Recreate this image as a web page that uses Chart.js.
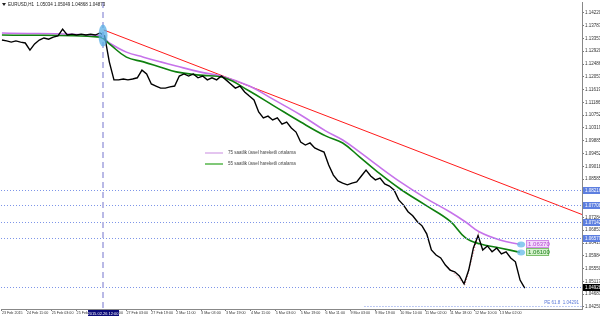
<!DOCTYPE html>
<html>
<head>
<meta charset="utf-8">
<script src="https://cdn.jsdelivr.net/npm/chart.js@4/dist/chart.umd.min.js"></script>
<style>
  html, body { margin: 0; padding: 0; background: #fff; }
  #c { display: block; }
</style>
</head>
<body>
<canvas id="c" width="600" height="316"></canvas>
<script>
// bars per sample of the close line
const STEP = 3;

// closes sampled every 3 H1 bars
const closes = [
  1.1330, 1.1327, 1.1323, 1.1327, 1.1323, 1.1320, 1.1296, 1.1317, 1.1330, 1.1337,
  1.1333, 1.1340, 1.1344, 1.1367, 1.1347, 1.1350, 1.1347, 1.1350, 1.1347, 1.1350,
  1.1347, 1.1354, 1.1344, 1.1256, 1.1195, 1.1195, 1.1198, 1.1195, 1.1198, 1.1202,
  1.1228, 1.1215, 1.1181, 1.1174, 1.1167, 1.1167, 1.1171, 1.1174, 1.1208, 1.1215,
  1.1208, 1.1215, 1.1202, 1.1208, 1.1195, 1.1202, 1.1195, 1.1208, 1.1195, 1.1181,
  1.1167, 1.1174, 1.1154, 1.1140, 1.1127, 1.1086, 1.1066, 1.1072, 1.1059, 1.1066,
  1.1045, 1.1052, 1.1032, 1.1018, 1.0984, 1.0974, 1.0981, 1.0964, 1.0957, 1.0950,
  1.0906, 1.0872, 1.0852, 1.0845, 1.0839, 1.0845, 1.0849, 1.0869, 1.0889, 1.0869,
  1.0856, 1.0862, 1.0842, 1.0835, 1.0822, 1.0788, 1.0771, 1.0748, 1.0734, 1.0714,
  1.0700, 1.0673, 1.0618, 1.0601, 1.0591, 1.0567, 1.0550, 1.0544, 1.0530, 1.0503,
  1.0550, 1.0625, 1.0667, 1.0618, 1.0632, 1.0612, 1.0625, 1.0605, 1.0612, 1.0591,
  1.0578, 1.0516, 1.0489
];

// moving averages, read at these bar indices
const maBars = [0, 63, 69, 80, 91, 102, 112, 127, 143, 159, 175, 192, 208, 219, 230, 240, 256, 272, 288, 298, 307, 320, 333];
const ema75 = [1.1354, 1.1344, 1.1320, 1.1289, 1.1272, 1.1256, 1.1242, 1.1222, 1.1205, 1.1174, 1.1127, 1.1076,
  1.1022, 1.0991, 1.0950, 1.0910, 1.0849, 1.0795, 1.0747, 1.0713, 1.0679, 1.0652, 1.0637];
const ema55 = [1.1347, 1.1340, 1.1317, 1.1272, 1.1256, 1.1238, 1.1222, 1.1211, 1.1202, 1.1157, 1.1106, 1.1052,
  1.1005, 1.0981, 1.0933, 1.0889, 1.0825, 1.0771, 1.0716, 1.0659, 1.0639, 1.0625, 1.0610];

// trend line and zigzag (bar index, price)
const trendBars = [65.5, 373];
const trendPrices = [1.1364, 1.0738];
const zigBars = [286.6, 297.6, 306.5];
const zigPrices = [1.0561, 1.0500, 1.0679];

// horizontal levels
const levelPrices = [1.08216, 1.07708, 1.07142, 1.06579];
const lastPrice = 1.04928;
const fibPrice = 1.04291;
const fibStartBar = 233;
const cursorBar = 65;

// axis labels
const yTicks = [1.14220, 1.13787, 1.13353, 1.12920, 1.12486, 1.12053, 1.11619, 1.11186, 1.10752, 1.10319,
  1.09885, 1.09452, 1.09018, 1.08585, 1.08151, 1.07718, 1.07284, 1.06851, 1.06417, 1.05984,
  1.05550, 1.05117, 1.04683, 1.04250];
const xLabels = ["23 Feb 2015", "24 Feb 11:00", "25 Feb 03:00", "25 Feb 19:00", "26 Feb 11:00", "27 Feb 03:00",
  "27 Feb 19:00", "2 Mar 11:00", "3 Mar 03:00", "3 Mar 19:00", "4 Mar 11:00", "5 Mar 03:00", "5 Mar 19:00",
  "6 Mar 11:00", "9 Mar 03:00", "9 Mar 19:00", "10 Mar 10:00", "11 Mar 02:00", "11 Mar 18:00",
  "12 Mar 10:00", "13 Mar 02:00"];
const xLabelEvery = 16;
const cursorLabel = "2015.02.26 12:00";
const title = "EURUSD,H1  1.05034 1.05049 1.04868 1.04873";
const legend = ["75 saatlik üssel hareketli ortalama", "55 saatlik üssel hareketli ortalama"];

const FONT = '"Liberation Sans Narrow", "Liberation Sans", Arial, sans-serif';

function pts(xs, ys) {
  return ys.map((v, i) => ({ x: xs[i], y: v }));
}

const overlay = {
  id: "overlay",
  afterDraw(chart) {
    const { ctx, chartArea: a, scales } = chart;
    const x = scales.x, y = scales.y;
    ctx.save();

    // dotted levels
    ctx.lineWidth = 1;
    ctx.strokeStyle = "#7d95e8";
    ctx.setLineDash([1, 2]);
    levelPrices.concat([lastPrice]).forEach((p) => {
      const py = Math.round(y.getPixelForValue(p)) + 0.5;
      ctx.beginPath(); ctx.moveTo(a.left, py); ctx.lineTo(a.right, py); ctx.stroke();
    });
    const fy = Math.round(y.getPixelForValue(fibPrice)) + 0.5;
    ctx.beginPath(); ctx.moveTo(x.getPixelForValue(fibStartBar), fy); ctx.lineTo(a.right, fy); ctx.stroke();
    ctx.setLineDash([]);
    ctx.fillStyle = "#5a78d8";
    ctx.font = "4.5px " + FONT;
    ctx.textAlign = "right";
    ctx.textBaseline = "bottom";
    ctx.fillText("PE 61.8  " + fibPrice.toFixed(5), a.right - 3, fy - 1);

    // vertical cursor line
    const cx = Math.round(x.getPixelForValue(cursorBar));
    ctx.strokeStyle = "#b9b9e6";
    ctx.lineWidth = 2;
    ctx.setLineDash([6, 4]);
    ctx.beginPath(); ctx.moveTo(cx, a.top); ctx.lineTo(cx, a.bottom); ctx.stroke();
    ctx.setLineDash([]);

    // blue markers
    ctx.fillStyle = "rgba(90,175,230,0.75)";
    ctx.beginPath();
    ctx.ellipse(cx, y.getPixelForValue(1.1345), 4.5, 11, 0, 0, Math.PI * 2);
    ctx.fill();
    const endX = x.getPixelForValue(maBars[maBars.length - 1]);
    [ema75[ema75.length - 1], ema55[ema55.length - 1]].forEach((p) => {
      ctx.fillStyle = "rgba(110,190,235,0.8)";
      ctx.beginPath();
      ctx.ellipse(endX + 1, y.getPixelForValue(p), 4, 3, 0, 0, Math.PI * 2);
      ctx.fill();
    });

    // MA end labels
    ctx.font = "6px " + FONT;
    ctx.textAlign = "left";
    ctx.textBaseline = "middle";
    [[ema75, "#f3d9fb", "#d18ae6", "#b44bd0"], [ema55, "#d5f2cc", "#7cc06c", "#1c7d1c"]].forEach(([arr, bg, bd, fg]) => {
      const p = arr[arr.length - 1];
      const py = Math.round(y.getPixelForValue(p));
      ctx.fillStyle = bg;
      ctx.fillRect(endX + 6, py - 4, 23, 8);
      ctx.strokeStyle = bd;
      ctx.lineWidth = 1;
      ctx.strokeRect(endX + 6.5, py - 3.5, 22, 7);
      ctx.fillStyle = fg;
      ctx.fillText(p.toFixed(5), endX + 8, py + 0.5);
    });

    // legend lines and text
    ctx.font = "4.5px " + FONT;
    ctx.textBaseline = "middle";
    [["#c98be0", 1, 153], ["#80c878", 2, 164]].forEach(([col, w, ly], i) => {
      ctx.strokeStyle = col;
      ctx.lineWidth = w;
      ctx.beginPath(); ctx.moveTo(205, ly); ctx.lineTo(223, ly); ctx.stroke();
      ctx.fillStyle = "#444";
      ctx.fillText(legend[i], 228, ly);
    });

    // title
    ctx.fillStyle = "#222";
    ctx.beginPath(); ctx.moveTo(2, 3); ctx.lineTo(6, 3); ctx.lineTo(4, 6); ctx.closePath(); ctx.fill();
    ctx.fillText(title, 8, 5);

    // right axis boxes
    ctx.textAlign = "left";
    levelPrices.forEach((p) => {
      const py = Math.round(y.getPixelForValue(p));
      ctx.fillStyle = "#5d7fe0";
      ctx.fillRect(a.right + 1, py - 3, 18, 7);
      ctx.fillStyle = "#fff";
      ctx.fillText(p.toFixed(5), a.right + 3, py + 0.5);
    });
    const ly = Math.round(y.getPixelForValue(lastPrice));
    ctx.fillStyle = "#000";
    ctx.fillRect(a.right + 1, ly - 3, 18, 7);
    ctx.fillStyle = "#fff";
    ctx.fillText(lastPrice.toFixed(5), a.right + 3, ly + 0.5);

    // cursor time box
    ctx.font = "4px " + FONT;
    ctx.fillStyle = "#0a0a78";
    ctx.fillRect(cx - 15, a.bottom + 1, 31, 7);
    ctx.fillStyle = "#fff";
    ctx.textAlign = "center";
    ctx.fillText(cursorLabel, cx, a.bottom + 4.5);

    ctx.restore();
  }
};

new Chart(document.getElementById("c"), {
  type: "line",
  data: {
    datasets: [
      {
        data: closes.map((c, i) => ({ x: i * STEP, y: c })),
        borderColor: "#000", borderWidth: 1.4, pointRadius: 0, tension: 0, order: 0
      },
      {
        data: pts(maBars, ema75),
        borderColor: "#c673ea", borderWidth: 1.6, pointRadius: 0, tension: 0.4, order: 2
      },
      {
        data: pts(maBars, ema55),
        borderColor: "#0f800f", borderWidth: 1.6, pointRadius: 0, tension: 0.4, order: 1
      },
      {
        data: pts(trendBars, trendPrices),
        borderColor: "#ff1a1a", borderWidth: 1, pointRadius: 0, order: 3
      },
      {
        data: pts(zigBars, zigPrices),
        borderColor: "#e05a6a", borderWidth: 1, borderDash: [1, 2], pointRadius: 0, order: 4
      }
    ]
  },
  options: {
    responsive: false,
    animation: false,
    devicePixelRatio: 1,
    layout: { padding: { left: 1, top: 2, right: 0, bottom: 0 } },
    plugins: { legend: { display: false }, tooltip: { enabled: false } },
    scales: {
      x: {
        type: "linear",
        min: -0.6,
        max: 372.8,
        grid: { drawOnChartArea: false, tickLength: 2, color: "#777" },
        border: { color: "#888" },
        afterBuildTicks: (s) => { s.ticks = xLabels.map((_, i) => ({ value: i * xLabelEvery })); },
        afterFit: (s) => { s.height = 7; s.paddingLeft = 0; s.paddingRight = 0; },
        ticks: {
          align: "start",
          padding: 0,
          maxRotation: 0,
          autoSkip: false,
          color: "#333",
          font: { size: 3.7, family: FONT },
          callback: (v) => xLabels[Math.round(v / xLabelEvery)]
        }
      },
      y: {
        position: "right",
        min: 1.0418,
        max: 1.1459,
        grid: { drawOnChartArea: false, tickLength: 2, color: "#777" },
        border: { color: "#888" },
        afterBuildTicks: (s) => { s.ticks = yTicks.map((v) => ({ value: v })); },
        afterFit: (s) => { s.width = 18; s.paddingTop = 0; s.paddingBottom = 0; },
        ticks: {
          padding: 1,
          color: "#333",
          font: { size: 4.5, family: FONT },
          callback: (v) => v.toFixed(5)
        }
      }
    }
  },
  plugins: [overlay]
});
</script>
</body>
</html>
